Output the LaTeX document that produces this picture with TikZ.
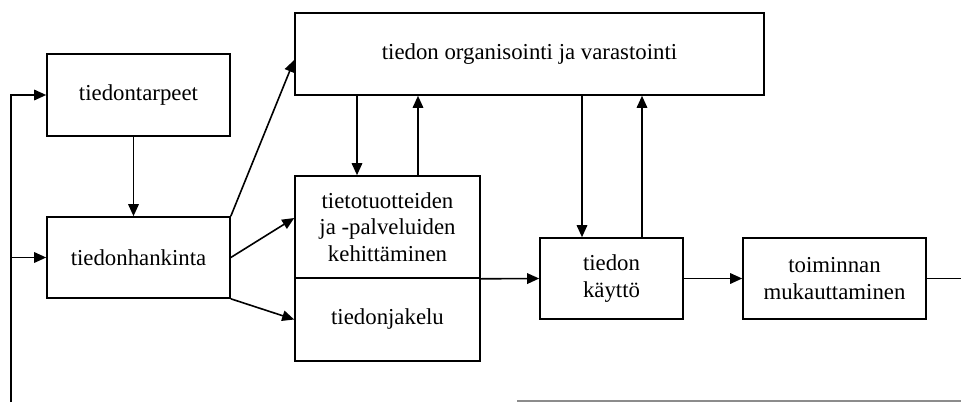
\documentclass[tikz,border=0pt]{standalone}
\usepackage{fontspec}
\setmainfont{Liberation Serif}
\usetikzlibrary{arrows.meta,calc}
\begin{document}
\begin{tikzpicture}[x=1pt,y=1pt,
  box/.style={draw=black, line width=1.6pt, align=center, inner sep=0pt,
    font=\fontsize{22.8}{26.5}\selectfont},
  conn/.style={draw=black, line width=1.6pt},
  arr/.style={conn, -{Triangle[length=12pt,width=10.5pt]}}]
\useasboundingbox (0,0) rectangle (961,-402);

% process boxes
\node[box, minimum width=183, minimum height=82] (tarpeet) at (138.5,-95) {tiedontarpeet};
\node[box, minimum width=183, minimum height=81] (hankinta) at (138.5,-257.5) {tiedonhankinta};
\node[box, minimum width=469, minimum height=82] (org) at (529.5,-54) {tiedon organisointi ja varastointi};
\node[box, minimum width=185, minimum height=102] (kehitys) at (387.5,-227) {tietotuotteiden\\ja -palveluiden\\kehittäminen};
\node[box, minimum width=185, minimum height=83] (jakelu) at (387.5,-319.5) {tiedonjakelu};
\node[box, minimum width=143, minimum height=81] (kaytto) at (611.5,-278.5) {tiedon\\käyttö};
\node[box, minimum width=183, minimum height=81] (toim) at (834.5,-278.5) {toiminnan\\mukauttaminen};

% feedback line on the left
\coordinate (fbBottom) at (11,-402);
\coordinate (fbMid) at (11,-257.5);
\draw[arr] (fbBottom) |- (tarpeet.west);
\draw[arr] (fbMid) -- (hankinta.west);

% main flow
\draw[arr] ([xshift=-5pt]tarpeet.south) -- ([xshift=-5pt]hankinta.north);
\draw[arr] (hankinta.north east) -- ([yshift=-6pt]org.west);
\draw[arr] (hankinta.east) -- ([yshift=9pt]kehitys.west);
\draw[arr] (hankinta.south east) -- (jakelu.west);

% exchange with the store
\draw[arr] ([xshift=-30.5pt]kehitys.north |- org.south) -- ([xshift=-30.5pt]kehitys.north);
\draw[arr] ([xshift=30.5pt]kehitys.north) -- ([xshift=30.5pt]kehitys.north |- org.south);
\draw[arr] ([xshift=-29.5pt]kaytto.north |- org.south) -- ([xshift=-29.5pt]kaytto.north);
\draw[arr] ([xshift=30.5pt]kaytto.north) -- ([xshift=30.5pt]kaytto.north |- org.south);

\draw[arr] (kehitys.south east) -- (kaytto.west);
\draw[arr] (kaytto.east) -- (toim.west);

% outgoing lines
\coordinate (outR) at (961,-278.5);
\draw[conn] (toim.east) -- (outR);
\coordinate (retA) at (517,-401);
\coordinate (retB) at (961,-401);
\draw[draw=black!45, line width=1.2pt] (retA) -- (retB);
\end{tikzpicture}
\end{document}
